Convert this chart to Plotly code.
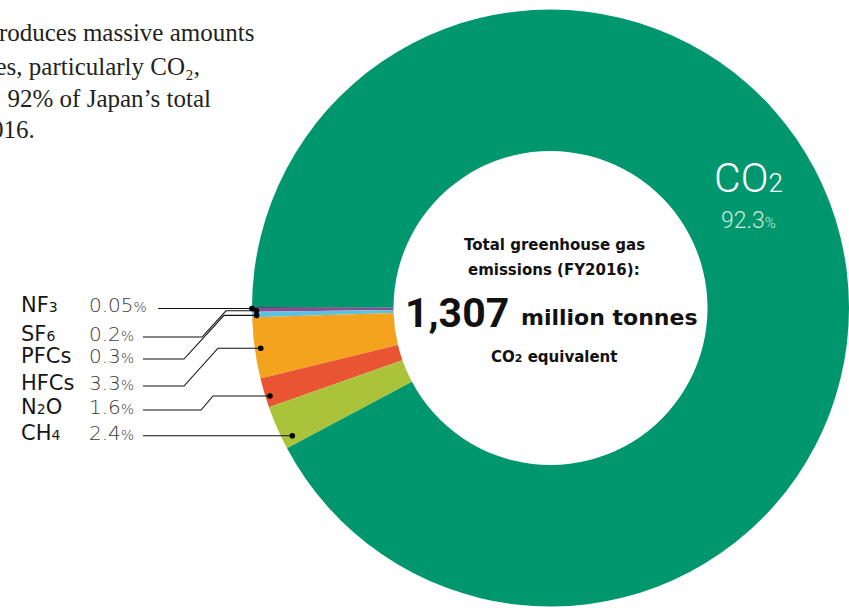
import math
import plotly.graph_objects as go

W, H = 849, 611
OFF = 0  # body margin removed by post_script below

# ---- data ----
gases = ["NF₃", "SF₆", "PFCs", "HFCs", "N₂O", "CH₄", "CO₂"]
shares = [0.05, 0.2, 0.3, 3.3, 1.6, 2.4, 92.3]
share_text = ["0.05", "0.2", "0.3", "3.3", "1.6", "2.4", "92.3"]
total_emissions = "1,307"
colors = ["#5E3A78", "#8E4C90", "#5BC3E2", "#F4A31E", "#E95533", "#AAC33A", "#00966E"]

intro_lines = [
    "Thermal power generation produces massive amounts",
    "of greenhouse gases, particularly CO₂,",
    "which accounts for about\u00a0\u00a092% of Japan’s total",
    "emissions in FY2016.",
]

# ---- helpers ----
SUBS = {"₀": "0", "₁": "1", "₂": "2", "₃": "3", "₄": "4", "₅": "5", "₆": "6", "₇": "7", "₈": "8", "₉": "9"}


def markup(s, size):
    out = ""
    for ch in s:
        if ch in SUBS:
            out += f"<span style='font-size:{size}px'>{SUBS[ch]}</span>"
        else:
            out += ch
    return out


def px(x):
    return (x - OFF) / W


def py(y):
    return 1 - (y - OFF) / H


ROBOTO = "Roboto, 'DejaVu Sans', sans-serif"
DEJAVU = "'DejaVu Sans', sans-serif"
SERIF = "'Liberation Serif', 'DejaVu Serif', serif"

dom_x = [252 / W, 1.0]
dom_y = [0.0, 1 - 5 / H]
rotation = 270

fig = go.Figure(
    go.Pie(
        labels=gases,
        values=shares,
        marker=dict(colors=colors, line=dict(width=0)),
        hole=0.526,
        sort=False,
        direction="counterclockwise",
        rotation=rotation,
        textinfo="none",
        hoverinfo="skip",
        domain=dict(x=dom_x, y=dom_y),
        showlegend=False,
    )
)

# pie geometry in window pixels
cx = (dom_x[0] + dom_x[1]) / 2 * W + OFF
cy = (1 - (dom_y[0] + dom_y[1]) / 2) * H + OFF
R = min((dom_x[1] - dom_x[0]) * W, (dom_y[1] - dom_y[0]) * H) / 2
tot = sum(shares)

# leader-line styling
dot_frac = [0.5, 0.5, 0.5, 0.5, 0.62, 0.78]
dot_rad = [1.0, 0.985, 0.985, 0.98, 0.985, 0.965]
elbows = [None, (226, 202), (224, 184), (218, 184), (213, 201), None]
row_y = [None, 337, 359, 386, 410, None]
start_x = [158, 143, 143, 143, 143, 143]

shapes = []
annotations = []
cum = 0.0
for i in range(6):
    v = shares[i]
    mid = cum + v * dot_frac[i]
    cum += v
    th = math.radians(mid / tot * 360)
    r = R * dot_rad[i]
    dx = cx - r * math.cos(th)
    dy = cy + r * math.sin(th)
    ry = row_y[i] if row_y[i] is not None else dy
    if elbows[i] is None:
        pts = [(start_x[i], ry), (dx, dy)]
    else:
        xa, xb = elbows[i]
        pts = [(start_x[i], ry), (xb, ry), (xa, dy), (dx, dy)]
    path = "M " + " L ".join(f"{px(a):.5f},{py(b):.5f}" for a, b in pts)
    shapes.append(dict(type="path", xref="paper", yref="paper", path=path,
                       line=dict(color="#111111", width=1.1), layer="above"))
    rr = 2.8
    shapes.append(dict(type="circle", xref="paper", yref="paper",
                       x0=px(dx - rr), x1=px(dx + rr), y0=py(dy + rr), y1=py(dy - rr),
                       fillcolor="#000000", line=dict(width=0), layer="above"))
    ty = ry - 3
    annotations.append(dict(x=px(19), y=py(ty), xref="paper", yref="paper",
                            xanchor="left", yanchor="middle", showarrow=False,
                            text=markup(gases[i], 14),
                            font=dict(family=DEJAVU, size=21, color="#161616")))
    annotations.append(dict(x=px(87), y=py(ty), xref="paper", yref="paper",
                            xanchor="left", yanchor="middle", showarrow=False,
                            text=share_text[i] + "<span style='font-size:14px'>%</span>",
                            font=dict(family=DEJAVU, size=20, color="#3a3a3a", weight=200)))

# CO2 label on the ring
annotations.append(dict(x=px(748), y=py(178), xref="paper", yref="paper",
                        xanchor="center", yanchor="middle", showarrow=False,
                        text=markup(gases[6], 26),
                        font=dict(family=ROBOTO, size=41, color="#ffffff", weight=300)))
annotations.append(dict(x=px(748), y=py(221), xref="paper", yref="paper",
                        xanchor="center", yanchor="middle", showarrow=False,
                        text=share_text[6] + "<span style='font-size:15px'>%</span>",
                        font=dict(family=ROBOTO, size=23, color="#CDEBDD", weight=300)))

# centre text
ccx = 554
annotations.append(dict(x=px(ccx), y=py(245), xref="paper", yref="paper",
                        xanchor="center", yanchor="middle", showarrow=False,
                        text="Total greenhouse gas",
                        font=dict(family=DEJAVU, size=15, color="#111111", weight=700)))
annotations.append(dict(x=px(ccx), y=py(270), xref="paper", yref="paper",
                        xanchor="center", yanchor="middle", showarrow=False,
                        text="emissions (FY2016):",
                        font=dict(family=DEJAVU, size=15, color="#111111", weight=700)))
annotations.append(dict(x=px(457), y=py(313), xref="paper", yref="paper",
                        xanchor="center", yanchor="middle", showarrow=False,
                        text=total_emissions,
                        font=dict(family=ROBOTO, size=41, color="#111111", weight=700)))
annotations.append(dict(x=px(609), y=py(317), xref="paper", yref="paper",
                        xanchor="center", yanchor="middle", showarrow=False,
                        text="million tonnes",
                        font=dict(family=DEJAVU, size=22, color="#111111", weight=700)))
annotations.append(dict(x=px(ccx), y=py(357), xref="paper", yref="paper",
                        xanchor="center", yanchor="middle", showarrow=False,
                        text=markup("CO₂ equivalent", 11),
                        font=dict(family=DEJAVU, size=15, color="#111111", weight=700)))

# intro paragraph (clipped at left edge)
intro_right = [256, 202, 213, 37]
intro_y = [33, 67, 99, 130]
for line, xr, yy in zip(intro_lines, intro_right, intro_y):
    annotations.append(dict(x=px(xr), y=py(yy), xref="paper", yref="paper",
                            xanchor="right", yanchor="middle", showarrow=False,
                            text=line,
                            font=dict(family=SERIF, size=25, color="#231f20")))

fig.update_layout(
    width=W, height=H,
    margin=dict(l=0, r=0, t=0, b=0, pad=0),
    paper_bgcolor="white", plot_bgcolor="white",
    shapes=shapes, annotations=annotations,
    showlegend=False,
)

fig.write_html(
    "out.html",
    config={"displayModeBar": False},
    post_script="document.body.style.margin='0';document.body.style.overflow='hidden';",
)
